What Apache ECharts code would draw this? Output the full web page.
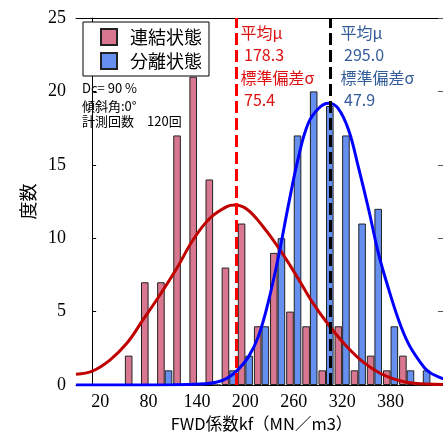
<!DOCTYPE html>
<html>
<head>
<meta charset="utf-8">
<script src="https://cdn.jsdelivr.net/npm/echarts@6/dist/echarts.min.js"></script>
<style>html,body{margin:0;padding:0;background:#fff;}#c{width:443px;height:432px;}</style>
</head>
<body>
<div id="c"></div>
<script>
// ---- data ----
const categories = ['0','20','40','60','80','100','120','140','160','180','200','220','240','260','280','300','320','340','360','380','400','420','440'];
const connectedCounts = [0,0,0,2,7,7,17,21,14,8,11,4,9,5,4,1,4,1,2,1,2,0,0];
const separatedCounts = [0,0,0,0,0,1,0,0,0,1,2,4,10,17,20,19,17,11,12,4,1,1,0];
const seriesNames = ['連結状態','分離状態'];
const connectedCurve = [[-20,0.73],[1,0.97],[22,1.7],[43,2.84],[63,4.43],[84,6.13],[105,7.95],[125,9.88],[146,11.36],[167,12.15],[177,12.26],[192,11.97],[212,10.78],[233,9.2],[254,7.38],[274,5.56],[295,3.97],[316,2.61],[337,1.52],[357,0.8],[378,0.34],[399,0.12],[440,0.03]];
const separatedCurve = [[-20,0],[100,0.01],[140,0.08],[155,0.2],[167,0.45],[180,1.0],[194,1.93],[206,3.29],[218,5.56],[231,8.74],[243,12.15],[256,15.55],[268,17.83],[281,18.85],[293,19.19],[305,18.85],[318,17.37],[330,14.87],[343,11.92],[355,8.97],[368,6.47],[380,4.43],[392,2.84],[405,1.7],[417,0.91],[434,0.45],[440,0.35]];
const means = [178.3, 295.0];
const sigmas = [75.4, 47.9];
const yTicks = {min:0, max:25, interval:5};
const xValueRange = {min:-20, max:440};
const infoLines = ['Dc= 90 %','傾斜角:0°','計測回数　120回'];
const xTitle = 'FWD係数kf（MN／m3）';
const yTitle = '度数';

// ---- chart ----
const chart = echarts.init(document.getElementById('c'), null, {renderer:'canvas'});
const serif = '"Liberation Serif","Times New Roman",serif';
const cjk = '"Noto Sans CJK JP","Noto Sans",sans-serif';
const redText = '#DD1111', blueText = '#335C99';

const graphics = [];
infoLines.forEach((t,i)=>{
  graphics.push({type:'text', x:82, y:[88,106,121.5][i], style:{text:t, fill:'#000', font:'13px '+cjk, verticalAlign:'middle'}, z:100});
});
function statBlock(x, color, mean, sd){
  const rows = ['平均μ',' '+mean.toFixed(1),'標準偏差σ',' '+sd.toFixed(1)];
  const ys = [33,55,78,100];
  rows.forEach((r,i)=>{
    graphics.push({type:'text', x:x, y:ys[i], style:{text:r, fill:color, font:'16px '+cjk, verticalAlign:'middle'}, z:100});
  });
}
statBlock(240.5, redText, means[0], sigmas[0]);
statBlock(340.5, blueText, means[1], sigmas[1]);

const option = {
  animation:false,
  backgroundColor:'#fff',
  grid:{left:76, right:-4, top:18, bottom:47, containLabel:false, outerBoundsMode:'none'},
  legend:{
    data:seriesNames, orient:'vertical', left:83, top:22,
    padding:[6,7,6,17], itemGap:6, itemWidth:16, itemHeight:16,
    icon:'rect',
    borderColor:'#000', borderWidth:1, backgroundColor:'#fff',
    textStyle:{fontSize:18, fontFamily:cjk, color:'#000', padding:[0,0,0,8]}
  },
  xAxis:[
    {type:'category', data:categories, position:'bottom', boundaryGap:true,
     axisLine:{lineStyle:{color:'#000', width:1}},
     axisTick:{show:false},
     axisLabel:{interval:(i)=> i%3===1 && i<22, color:'#000', fontSize:18, fontFamily:serif, margin:8},
     name:xTitle, nameLocation:'middle', nameGap:28,
     nameTextStyle:{fontSize:16.5, fontFamily:cjk, color:'#000'}},
    {type:'value', min:xValueRange.min, max:xValueRange.max, show:false},
    {type:'category', data:categories, position:'top', boundaryGap:true,
     axisLine:{lineStyle:{color:'#000', width:1}},
     axisTick:{inside:true, length:6, interval:(i)=> i%3===0 && i>0, lineStyle:{color:'#000'}},
     axisLabel:{show:false}}
  ],
  yAxis:[
    {type:'value', min:yTicks.min, max:yTicks.max, interval:yTicks.interval,
     axisLine:{show:true, lineStyle:{color:'#000'}},
     axisTick:{show:true, inside:true, length:4, lineStyle:{color:'#000'}},
     splitLine:{show:false},
     axisLabel:{color:'#000', fontSize:18, fontFamily:serif, margin:10},
     name:yTitle, nameLocation:'middle', nameRotate:90, nameGap:37,
     nameTextStyle:{fontSize:18, fontFamily:cjk, color:'#000'}},
    {type:'value', min:yTicks.min, max:yTicks.max, interval:yTicks.interval, position:'right',
     axisLine:{show:true, lineStyle:{color:'#000'}},
     axisTick:{show:true, inside:true, length:9, lineStyle:{color:'#555'}},
     splitLine:{show:false}, axisLabel:{show:false}}
  ],
  series:[
    {name:seriesNames[0], type:'bar', data:connectedCounts, xAxisIndex:0, yAxisIndex:0,
     barGap:'0%', barCategoryGap:'6%',
     itemStyle:{color:'#D8778F', borderColor:'#222', borderWidth:1}, z:2},
    {name:seriesNames[1], type:'bar', data:separatedCounts, xAxisIndex:0, yAxisIndex:0,
     barGap:'0%', barCategoryGap:'6%',
     itemStyle:{color:'#6690F0', borderColor:'#222', borderWidth:1}, z:2},
    {name:'connectedFit', type:'line', data:connectedCurve, xAxisIndex:1, yAxisIndex:0,
     smooth:0.4, symbol:'none', lineStyle:{color:'#C00000', width:3}, z:4},
    {name:'separatedFit', type:'line', data:separatedCurve, xAxisIndex:1, yAxisIndex:0,
     smooth:0.4, symbol:'none', lineStyle:{color:'#0000FF', width:3}, z:4},
    {name:'means', type:'line', data:[], xAxisIndex:1, yAxisIndex:0, z:5,
     markLine:{silent:true, symbol:['none','none'], label:{show:false},
       data:[
         {xAxis:means[0], lineStyle:{color:'#FF0000', width:3, type:[12,5]}},
         {xAxis:means[1], lineStyle:{color:'#000000', width:3, type:[12,5]}}
       ]}}
  ],
  graphic:graphics
};
chart.setOption(option);
</script>
</body>
</html>
